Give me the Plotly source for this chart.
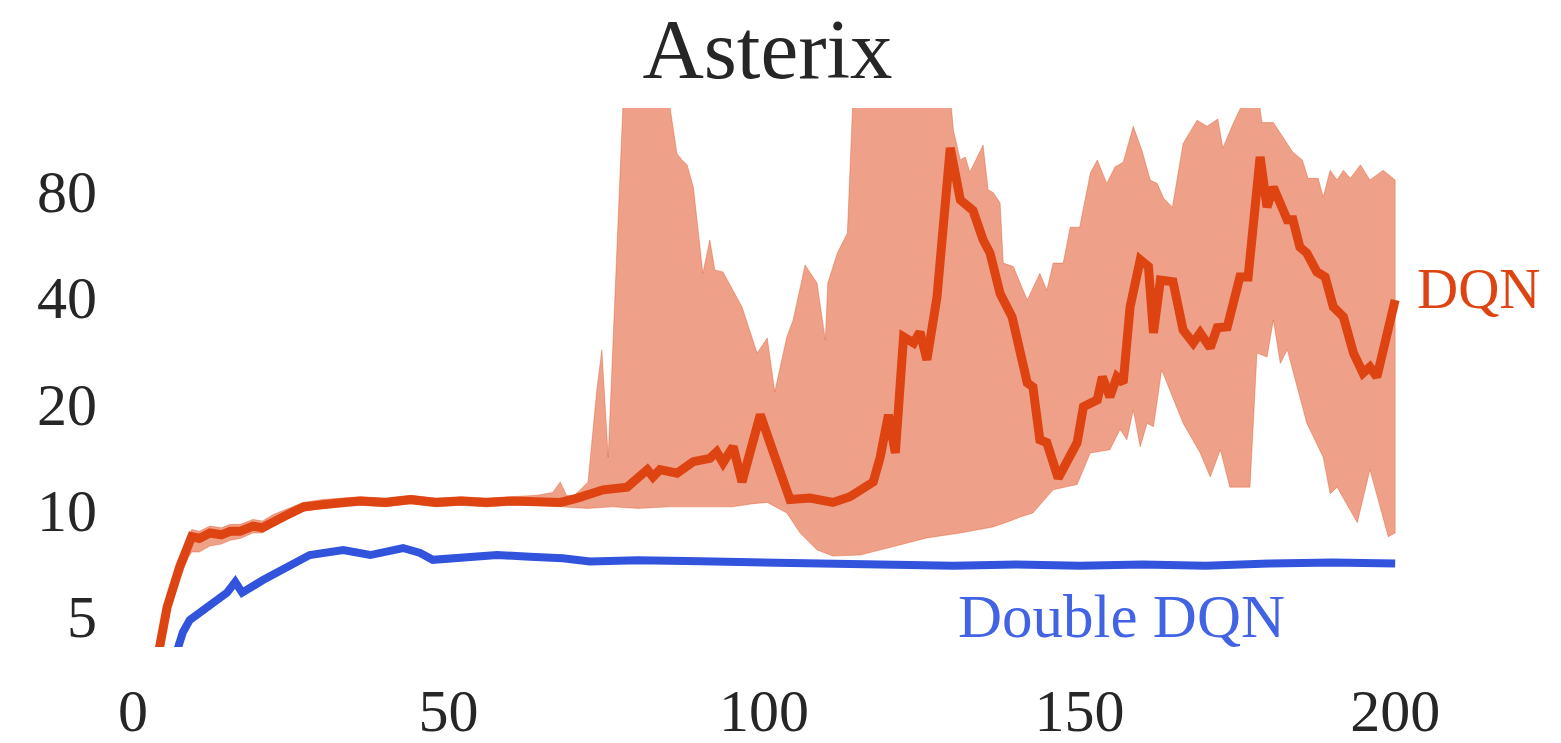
import math
import plotly.graph_objects as go

# ---- data (epochs, value) ----
dqn_x = [4.0, 5.4, 7.4, 8.7, 9.3, 10.5, 12.2, 14.0, 15.4, 17.0, 19.0, 20.5, 22.2, 24.0, 27.0,
         30.0, 33.3, 36.0, 40.0, 44.0, 48.0, 52.0, 56.0, 60.0, 64.0, 67.7, 70.4, 74.5, 78.3,
         81.5, 82.4, 83.5, 86.2, 88.8, 91.4, 92.5, 93.5, 95.1, 96.5, 97.8, 99.4, 101.5, 104.1,
         107.3, 110.9, 113.6, 117.3, 118.4, 119.7, 120.8, 122.1, 123.7, 124.7, 125.8, 127.4,
         129.5, 131.1, 133.1, 134.7, 135.8, 137.4, 139.3, 141.7, 142.6, 143.7, 144.8, 146.6,
         149.6, 150.6, 152.8, 153.6, 154.8, 155.9, 156.9, 158.0, 159.6, 160.9, 161.7, 162.8,
         164.8, 166.4, 168.0, 169.1, 170.7, 171.8, 173.4, 175.4, 176.7, 178.6, 179.7, 180.7,
         182.9, 183.8, 184.9, 186.0, 187.6, 188.9, 190.2, 191.8, 193.4, 194.9, 196.0, 197.1, 200.0]
dqn_median = [3.9, 5.3, 6.9, 7.9, 8.4, 8.3, 8.6, 8.5, 8.7, 8.7, 9.0, 8.9, 9.3, 9.6, 10.2,
              10.4, 10.5, 10.6, 10.5, 10.7, 10.5, 10.6, 10.5, 10.6, 10.6, 10.5, 10.8, 11.4, 11.6,
              13.0, 12.4, 13.0, 12.7, 13.7, 14.0, 14.6, 13.6, 15.1, 12.0, 14.8, 18.6, 14.5, 10.7,
              10.8, 10.5, 10.9, 12.0, 14.1, 18.6, 14.5, 30.9, 29.7, 31.9, 26.6, 40.1,
              106.0, 75.5, 70.5, 58.2, 53.4, 41.0, 35.2, 22.9, 22.3, 15.8, 15.5, 12.3,
              15.5, 19.6, 20.5, 23.8, 20.9, 23.8, 22.9, 37.6, 51.1, 48.9, 31.7, 44.8,
              44.3, 32.3, 29.7, 31.7, 28.8, 32.8, 33.0, 45.7, 45.7, 99.9, 72.0, 82.0,
              66.3, 66.3, 55.5, 53.4, 47.2, 45.7, 37.6, 35.2, 27.8, 24.4, 25.4, 23.8, 39.3]

dqn_upper_x = [4.0, 5.4, 7.4, 8.7, 9.3, 10.5, 12.2, 14.0, 15.4, 17.0, 19.0, 20.5, 22.2, 24.0, 27.0,
               30.0, 33.3, 36.0, 40.0, 44.0, 48.0, 52.0, 56.0, 60.0, 64.0, 66.5, 67.7, 68.7, 69.7,
               71.3, 72.1, 73.5, 74.3, 75.3, 76.4, 77.7, 84.8, 86.2, 87.0, 87.8, 88.8, 90.3, 91.4,
               92.2, 93.5, 96.5, 98.9, 100.5, 101.7, 103.6, 104.6, 106.5, 108.4, 109.7, 110.1,
               111.6, 113.2, 114.1, 129.5, 130.0, 131.1, 131.9, 132.6, 134.7, 135.5, 136.3, 137.4,
               137.9, 139.5, 141.7, 143.7, 144.8, 145.8, 147.4, 148.5, 150.0, 151.7, 152.8, 154.3,
               155.6, 156.9, 158.5, 159.9, 161.2, 162.3, 163.3, 164.7, 166.4, 168.6, 170.2, 171.9,
               172.7, 174.3, 176.5, 178.3, 178.9, 180.7, 183.8, 185.3, 186.2, 187.8, 188.6, 189.7,
               190.8, 191.8, 192.9, 194.5, 196.0, 198.1, 199.7, 200.0]
dqn_upper = [4.0, 5.5, 7.2, 8.3, 8.8, 8.7, 9.0, 8.9, 9.1, 9.1, 9.4, 9.3, 9.7, 10.0, 10.5,
             10.7, 10.8, 10.9, 10.8, 11.0, 10.8, 10.9, 10.8, 10.9, 11.0, 11.2, 12.0, 11.0, 10.9,
             11.6, 12.0, 21.9, 28.4, 14.1, 41.9, 150.0, 150.0, 102.0, 98.0, 95.0, 82.0, 46.8, 58.2,
             47.8, 47.2, 37.6, 27.8, 30.7, 21.6, 30.9, 34.5, 49.4, 43.9, 30.3, 43.9,
             53.4, 60.9, 150.0, 150.0, 119.0, 98.0, 99.9, 90.5, 108.0, 80.7, 79.2, 74.1,
             50.0, 48.9, 39.3, 46.8, 41.9, 50.0, 50.0, 63.2, 63.2, 90.0, 98.0, 84.1,
             93.6, 96.6, 122.0, 104.0, 86.0, 84.0, 76.4, 72.0, 109.0, 127.0, 122.0, 128.0,
             106.0, 124.0, 150.0, 150.0, 125.0, 125.0, 103.0, 98.0, 86.9, 86.9, 76.9, 91.6,
             86.0, 91.6, 86.9, 94.9, 86.0, 91.6, 86.9, 86.0]

dqn_lower_x = [4.0, 5.4, 7.4, 8.7, 9.3, 10.5, 12.2, 14.0, 15.4, 17.0, 19.0, 20.5, 22.2, 24.0, 27.0,
               30.0, 33.3, 36.0, 40.0, 44.0, 48.0, 52.0, 56.0, 60.0, 64.0, 67.7, 72.0, 76.0, 80.0,
               85.0, 90.0, 95.0, 98.0, 100.5, 103.6, 105.7, 108.4, 110.9, 115.2, 120.4, 125.8,
               131.1, 136.3, 139.0, 140.6, 142.6, 145.8, 149.6, 151.7, 154.8, 156.4, 157.5, 158.5,
               159.6, 160.7, 161.7, 163.0, 166.4, 169.1, 170.7, 172.3, 173.8, 177.0, 178.1, 179.7,
               180.7, 181.8, 182.9, 186.0, 188.6, 189.7, 190.8, 194.0, 196.0, 198.9, 200.0]
dqn_lower = [3.8, 5.0, 6.4, 7.3, 7.6, 7.6, 7.9, 8.0, 8.2, 8.3, 8.6, 8.6, 9.0, 9.3, 9.9,
             10.1, 10.2, 10.3, 10.2, 10.4, 10.2, 10.3, 10.2, 10.3, 10.3, 10.2, 10.1, 10.2, 10.1,
             10.2, 10.2, 10.2, 10.4, 10.5, 9.8, 8.6, 7.7, 7.4, 7.45, 7.86, 8.33,
             8.6, 8.95, 9.3, 9.55, 9.8, 11.4, 11.8, 14.5, 14.8, 16.9, 15.8, 19.2,
             15.1, 17.6, 17.2, 24.9, 17.6, 14.5, 12.4, 14.8, 11.6, 11.6, 27.8, 27.1,
             34.5, 26.0, 28.4, 17.6, 14.1, 11.1, 11.6, 9.2, 13.0, 8.4, 8.6]

ddqn_x = [7.0, 7.9, 9.0, 11.7, 14.9, 16.2, 17.3, 20.6, 24.4, 28.0, 33.3, 37.6, 42.8, 45.5, 47.5,
          52.3, 57.7, 62.9, 68.1, 72.4, 80, 90, 100, 110, 115, 120, 130, 140, 150, 160, 170,
          180, 190, 200]
ddqn_median = [4.0, 4.5, 4.88, 5.3, 5.83, 6.25, 5.83, 6.33, 6.9, 7.45, 7.7, 7.45, 7.8, 7.55, 7.22,
               7.37, 7.45, 7.37, 7.3, 7.14, 7.2, 7.15, 7.1, 7.0, 6.95, 7.0, 6.95, 7.0, 6.95, 7.0,
               6.95, 7.05, 7.1, 7.05]

y_ticks = [5, 10, 20, 40, 80]
x_ticks = [0, 50, 100, 150, 200]

ORANGE = "rgb(222,68,18)"
ORANGE_FILL = "rgba(222,68,18,0.5)"
BLUE = "rgb(50,84,220)"
FONT = "Liberation Serif"
TXT = "#262626"

fig = go.Figure()
fig.add_trace(go.Scatter(
    x=dqn_upper_x + dqn_lower_x[::-1],
    y=dqn_upper + dqn_lower[::-1],
    fill="toself", fillcolor=ORANGE_FILL, mode="lines",
    line=dict(color="rgba(222,68,18,0.35)", width=1), hoverinfo="skip", showlegend=False))
fig.add_trace(go.Scatter(x=dqn_x, y=dqn_median, mode="lines",
                         line=dict(color=ORANGE, width=9), showlegend=False))
fig.add_trace(go.Scatter(x=ddqn_x, y=ddqn_median, mode="lines",
                         line=dict(color=BLUE, width=8), showlegend=False))

# annotations on a log axis take log10 positions
fig.add_annotation(x=203.2, y=math.log10(42.5), text="DQN", xref="x", yref="y", showarrow=False,
                   xanchor="left", yanchor="middle",
                   font=dict(family=FONT, size=57, color=ORANGE))
fig.add_annotation(x=156.7, y=math.log10(4.98), text="Double DQN", xref="x", yref="y",
                   showarrow=False, xanchor="center", yanchor="middle",
                   font=dict(family=FONT, size=61, color="rgb(66,100,228)"))

fig.update_layout(
    width=1561, height=743,
    paper_bgcolor="white", plot_bgcolor="white",
    margin=dict(l=120, r=27, t=108, b=96),
    title=dict(text="Asterix", x=767.5 / 1561, xref="container", xanchor="center",
               y=1 - 48 / 743, yref="container", yanchor="middle",
               font=dict(family=FONT, size=85, color=TXT)),
    font=dict(family=FONT, color=TXT),
)
fig.update_xaxes(range=[-2.06, 222], tickvals=x_ticks, ticktext=[str(v) for v in x_ticks],
                 showgrid=False, zeroline=False, showline=False, ticks="", automargin=False,
                 tickfont=dict(family=FONT, size=60, color=TXT), ticklabelstandoff=23)
fig.update_yaxes(type="log", range=[0.6117, 2.1383], tickvals=y_ticks,
                 ticktext=[str(v) for v in y_ticks], automargin=False,
                 showgrid=False, zeroline=False, showline=False, ticks="",
                 tickfont=dict(family=FONT, size=60, color=TXT), ticklabelstandoff=22)

fig.write_html("out.html")
